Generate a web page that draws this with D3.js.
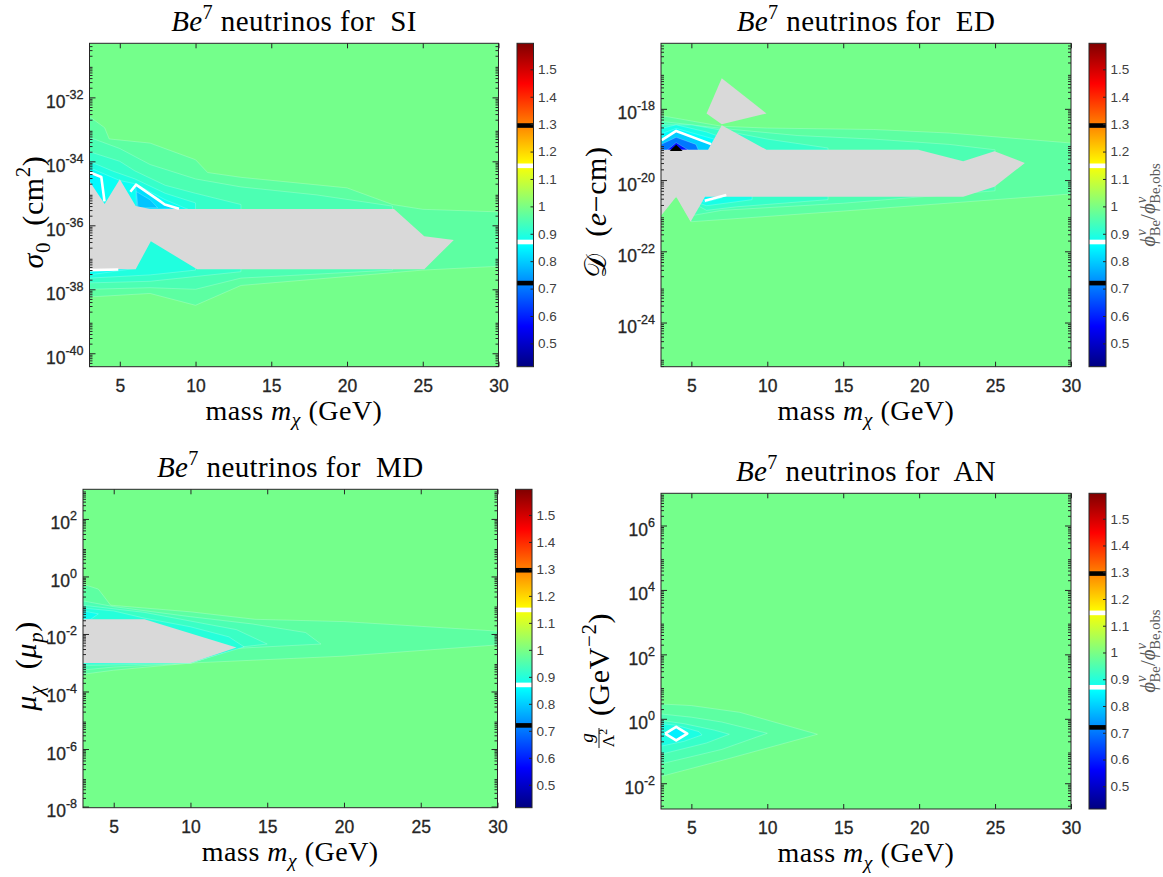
<!DOCTYPE html>
<html>
<head>
<meta charset="utf-8">
<script src="https://cdn.jsdelivr.net/npm/d3@7"></script>
<style>
  body { margin: 0; background: #fff; }
  svg { display: block; }
  .tex { font-family: "Liberation Serif", "Times New Roman", serif; fill: #000; white-space: pre; }
  .ax text { font-family: "Liberation Sans", Arial, sans-serif; fill: #262626; stroke: #262626; stroke-width: 0.3px; }
  .ax line { stroke: #262626; }
</style>
</head>
<body>
<div id="chart"></div>
<script>

// ---- shared values ----
var massDomain = [3, 30];
var massTicks = [5, 10, 15, 20, 25, 30];
var cbDomain = [0.415, 1.595];
var cbTicks = [0.5, 0.6, 0.7, 0.8, 0.9, 1, 1.1, 1.2, 1.3, 1.4, 1.5];
var cbMarks = [{v: 0.72, c: "#000"}, {v: 0.87, c: "#fff"}, {v: 1.148, c: "#fff"}, {v: 1.295, c: "#000"}];
var bgLevel = 0.992;

// ---- SI : [mass, log10(sigma0)] ----
var siYDomain = [-40.42, -30.31];
var siYTicks = [-40, -38, -36, -34, -32];
var siBands = [
  {v: 0.965, pts: [[3,-32.6],[4,-32.95],[4.3,-33.3],[7,-33.43],[10,-33.95],[10.8,-34.35],[13,-34.5],[20,-34.83],[23,-35.35],[25,-35.5],[30,-35.58],[30,-37.28],[25,-37.4],[13,-37.88],[10,-38.5],[7,-38.13],[3,-38.24]]},
  {v: 0.945, pts: [[3,-33.25],[5,-33.6],[7,-34.1],[10,-34.55],[13,-34.8],[18,-35.05],[23,-35.4],[23,-37.4],[13,-37.65],[10,-38.0],[7,-37.95],[3,-38.0]]},
  {v: 0.92,  pts: [[3,-33.7],[5,-34.0],[6,-34.3],[8,-34.75],[10,-35.0],[13,-35.35],[13,-37.45],[10,-37.6],[7,-37.75],[3,-37.8]]},
  {v: 0.895, pts: [[3,-34.0],[4.5,-34.3],[6,-34.55],[8,-35.0],[10,-35.3],[10,-37.4],[7,-37.55],[3,-37.65]]},
  {v: 0.87,  pts: [[3,-34.2],[4,-34.4],[5,-34.6],[6,-34.7],[8,-35.2],[9.5,-35.5],[3,-35.5]]},
  {v: 0.87,  pts: [[3,-37.3],[6,-37.35],[3,-37.55]]},
  {v: 0.85,  pts: [[3,-34.34],[3.78,-34.49],[3.99,-35.25],[3,-35.0]]},
  {v: 0.82,  pts: [[6.07,-34.73],[7.49,-35.19],[7.96,-35.35],[8.91,-35.48],[6.1,-35.5]]},
  {v: 0.79,  pts: [[6.1,-34.95],[7,-35.2],[7.5,-35.45],[6.2,-35.45]]}
];
var siGray = [
  [[3,-34.62],[4,-35.33],[5,-34.56],[6.05,-35.4],[7,-35.49],[23.1,-35.49],[25.1,-36.34],[27.05,-36.46],[25.1,-37.37],[10.1,-37.37],[7.05,-36.5],[6.05,-37.37],[3,-37.37]]
];
var siWhite = [
  [[3,-34.34],[3.78,-34.49],[3.99,-35.25]],
  [[5.7,-34.95],[6.07,-34.73],[7.49,-35.19],[7.96,-35.35],[8.91,-35.48]],
  [[3,-37.4],[4.9,-37.38]]
];

// ---- ED : [mass, log10(D)] ----
var edYDomain = [-25.24, -16.16];
var edYTicks = [-24, -22, -20, -18];
var edBands = [
  {v: 0.965, pts: [[3,-18.19],[7,-18.49],[10,-18.54],[17,-18.58],[22,-18.68],[30,-18.96],[30,-20.39],[15,-20.87],[5,-21.17],[4,-20.4],[3,-20.4]]},
  {v: 0.945, pts: [[3,-18.35],[7,-18.55],[12,-18.75],[17,-18.85],[22,-19.0],[25,-19.15],[25,-20.3],[15,-20.65],[7,-20.85],[5,-21.0],[4.3,-20.47],[3,-20.47]]},
  {v: 0.92,  pts: [[3,-18.45],[5,-18.45],[7,-18.6],[10,-18.85],[14,-19.1],[14,-20.55],[8,-20.75],[6,-20.85],[4.3,-20.47],[3,-20.47]]},
  {v: 0.885, pts: [[3,-18.55],[4,-18.45],[6,-18.65],[8,-18.95],[9,-19.2],[9,-20.55],[6,-20.72],[4.3,-20.47],[3,-20.47]]},
  {v: 0.86,  pts: [[3,-18.7],[4,-18.55],[6.5,-18.85],[7,-19.2],[7,-20.5],[5.9,-20.62],[4.3,-20.47],[3,-20.47]]},
  {v: 0.8,   pts: [[3,-18.88],[4,-18.62],[6.3,-18.99],[6.3,-19.2],[3,-19.2]]},
  {v: 0.7,   pts: [[3,-19.0],[4,-18.8],[5.3,-19.0],[5.5,-19.2],[3,-19.2]]},
  {v: 0.58,  pts: [[3.4,-19.16],[4,-18.95],[4.8,-19.16]]}
];
var edGray = [
  [[3,-19.15],[6.1,-19.15],[7,-18.46],[9.95,-19.15],[19.94,-19.15],[22.9,-19.47],[24.96,-19.19],[26.96,-19.52],[24.96,-20.19],[22.9,-20.47],[5.9,-20.47],[4.95,-21.17],[4.0,-20.47],[3,-21.0]],
  [[7,-17.14],[9.95,-18.13],[7,-18.43],[6,-18.13]]
];
var edWhite = [
  [[3.05,-18.88],[4,-18.62],[6.3,-18.99]],
  [[5.88,-20.58],[7.3,-20.42]]
];
var edBlack = [
  [[3.7,-19.16],[4,-19.04],[4.3,-19.16]]
];

// ---- MD : [mass, log10(mu)] ----
var mdYDomain = [-8.04, 3.03];
var mdYTicks = [-8, -6, -4, -2, 0, 2];
var mdBands = [
  {v: 0.965, pts: [[3,-0.27],[4,-0.44],[4.8,-1.0],[10,-1.23],[14.2,-1.49],[20,-1.57],[30,-1.9],[30,-2.38],[20,-2.77],[10,-3.01],[5,-3.26],[3,-3.4]]},
  {v: 0.945, pts: [[3,-0.85],[5,-1.05],[10,-1.4],[14,-1.65],[17.5,-1.95],[18.5,-2.35],[13,-2.5],[10,-3.02],[5,-3.15],[3,-3.25]]},
  {v: 0.925, pts: [[3,-1.0],[7,-1.25],[10,-1.55],[13,-1.85],[15,-2.35],[13,-2.47],[10,-3.02],[3,-3.1]]},
  {v: 0.9,   pts: [[3,-1.1],[5,-1.2],[7,-1.45],[10,-1.75],[12.5,-2.1],[13.5,-2.45],[10,-3.0],[3,-3.05]]},
  {v: 0.875, pts: [[3,-1.2],[4,-1.3],[3.5,-1.49],[3,-1.49]]}
];
var mdGray = [
  [[3,-1.49],[7,-1.49],[13,-2.47],[10,-3.01],[3,-3.01]]
];

// ---- AN : [mass, log10(g/Lambda^2)] ----
var anYDomain = [-2.8, 7.0];
var anYTicks = [-2, 0, 2, 4, 6];
var anBands = [
  {v: 0.965, pts: [[3,0.46],[5,0.41],[8.2,0.2],[13.3,-0.48],[7.5,-1.23],[3,-1.79]]},
  {v: 0.945, pts: [[3,0.15],[5,0.05],[7,-0.1],[10,-0.45],[7,-0.95],[3,-1.4]]},
  {v: 0.92,  pts: [[3,-0.05],[4.5,-0.15],[6.5,-0.35],[7.5,-0.48],[6,-0.75],[3,-1.1]]},
  {v: 0.89,  pts: [[3,-0.15],[4,-0.2],[5.5,-0.4],[5.7,-0.5],[4.5,-0.7],[3,-0.85]]},
  {v: 0.84,  pts: [[3.27,-0.46],[4,-0.25],[4.73,-0.46],[4,-0.67]]}
];
var anWhite = [
  [[3.27,-0.46],[4,-0.25],[4.73,-0.46],[4,-0.67],[3.27,-0.46]]
];

// ---- text ----
var xLabel = [{t: "mass "}, {t: "m", i: 1}, {t: "χ", s: "sub", i: 1}, {t: " (GeV)"}];
function titleFor(name) {
  return [{t: "Be", i: 1}, {t: "7", s: "sup"}, {t: " neutrinos for  " + name}];
}
var cbLabel = [{t: "ϕ", i: 1}, {t: "ν", s: "sup", i: 1}, {t: "Be", s: "sub", dx: -7}, {t: "/"},
               {t: "ϕ", i: 1}, {t: "ν", s: "sup", i: 1}, {t: "Be,obs", s: "sub", dx: -7}];

// jet colormap over the colorbar range
var jetT = [0, 0.125, 0.375, 0.625, 0.875, 1];
var jetC = ["#000080", "#0000ff", "#00ffff", "#ffff00", "#ff0000", "#800000"];
var color = d3.scaleLinear()
  .domain(jetT.map(function(t) { return cbDomain[0] + t * (cbDomain[1] - cbDomain[0]); }))
  .range(jetC)
  .clamp(true);

var svg = d3.select("#chart").append("svg")
  .attr("width", 1163)
  .attr("height", 877);

var defs = svg.append("defs");
var grad = defs.append("linearGradient")
  .attr("id", "jet")
  .attr("x1", 0).attr("y1", 1).attr("x2", 0).attr("y2", 0);
grad.selectAll("stop")
  .data(jetT)
  .enter().append("stop")
  .attr("offset", function(d) { return d; })
  .attr("stop-color", function(d, i) { return jetC[i]; });

// rich text with italic / sub / sup pieces
function rich(text, segs, fs) {
  var shift = 0;
  segs.forEach(function(s) {
    var target = s.s === "sup" ? -0.42 * fs : s.s === "sub" ? 0.24 * fs : 0;
    var ts = text.append("tspan")
      .text(s.t)
      .attr("font-size", s.s ? fs * 0.7 : fs)
      .attr("dy", target - shift);
    if (s.i) ts.attr("font-style", "italic");
    if (s.dx) ts.attr("dx", s.dx);
    shift = target;
  });
  return text;
}

var panels = [
  {name: "SI", yDom: siYDomain, yTicks: siYTicks, bands: siBands, gray: siGray, white: siWhite, black: [],
   left: 89.5, right: 498.5, top: 43.3, bottom: 366.7, cbL: 517, cbR: 533.5,
   ylab: {x: 43, y: 212, segs: [{t: "σ", i: 1}, {t: "0", s: "sub"}, {t: "  (cm"}, {t: "2", s: "sup"}, {t: ")"}]}, showCbLabel: false},
  {name: "ED", yDom: edYDomain, yTicks: edYTicks, bands: edBands, gray: edGray, white: edWhite, black: edBlack,
   left: 661, right: 1071, top: 43.3, bottom: 366.7, cbL: 1089, cbR: 1106,
   ylab: {x: 606, y: 212, segs: [{t: "𝒟"}, {t: "  ("}, {t: "e", i: 1}, {t: "−cm)"}]}, showCbLabel: true},
  {name: "MD", yDom: mdYDomain, yTicks: mdYTicks, bands: mdBands, gray: mdGray, white: [], black: [],
   left: 83, right: 497.5, top: 489.3, bottom: 807.7, cbL: 515.5, cbR: 532,
   ylab: {x: 36, y: 666, segs: [{t: "μ", i: 1}, {t: "χ", s: "sub", i: 1}, {t: "  ("}, {t: "μ", i: 1}, {t: "p", s: "sub", i: 1}, {t: ")"}]}, showCbLabel: false},
  {name: "AN", yDom: anYDomain, yTicks: anYTicks, bands: anBands, gray: [], white: anWhite, black: [],
   left: 661, right: 1071, top: 493.3, bottom: 809, cbL: 1089, cbR: 1106,
   ylab: null, showCbLabel: true}
];

panels.forEach(drawPanel);

function drawPanel(p, idx) {
  var g = svg.append("g");

  var x = d3.scaleLinear().domain(massDomain).range([p.left, p.right]);
  var y = d3.scaleLog()
    .domain([Math.pow(10, p.yDom[0]), Math.pow(10, p.yDom[1])])
    .range([p.bottom, p.top]);
  var pt = function(d) { return [x(d[0]), y(Math.pow(10, d[1]))]; };
  var line = d3.line();

  defs.append("clipPath").attr("id", "clip" + idx)
    .append("rect")
    .attr("x", p.left).attr("y", p.top)
    .attr("width", p.right - p.left).attr("height", p.bottom - p.top);

  var plot = g.append("g").attr("clip-path", "url(#clip" + idx + ")");

  plot.append("rect")
    .attr("x", p.left).attr("y", p.top)
    .attr("width", p.right - p.left).attr("height", p.bottom - p.top)
    .attr("fill", color(bgLevel));

  plot.selectAll("path.band")
    .data(p.bands)
    .enter().append("path")
    .attr("class", "band")
    .attr("d", function(b) { return line(b.pts.map(pt)) + "Z"; })
    .attr("fill", function(b) { return color(b.v); })
    .attr("stroke", "rgba(255,255,255,0.3)")
    .attr("stroke-width", 0.7);

  plot.selectAll("path.gray")
    .data(p.gray)
    .enter().append("path")
    .attr("class", "gray")
    .attr("d", function(d) { return line(d.map(pt)) + "Z"; })
    .attr("fill", "#d9d9d9");

  plot.selectAll("path.blk")
    .data(p.black)
    .enter().append("path")
    .attr("class", "blk")
    .attr("d", function(d) { return line(d.map(pt)) + "Z"; })
    .attr("fill", "#000")
    .attr("stroke", "#000")
    .attr("stroke-width", 1.5);

  plot.selectAll("path.wht")
    .data(p.white)
    .enter().append("path")
    .attr("class", "wht")
    .attr("d", function(d) { return line(d.map(pt)); })
    .attr("fill", "none")
    .attr("stroke", "#fff")
    .attr("stroke-width", 2.6)
    .attr("stroke-linejoin", "round");

  // axes
  var minor = [];
  d3.range(Math.floor(p.yDom[0]), Math.ceil(p.yDom[1])).forEach(function(k) {
    d3.range(2, 10).forEach(function(j) {
      var v = j * Math.pow(10, k);
      if (Math.log10(v) > p.yDom[0] && Math.log10(v) < p.yDom[1]) minor.push(v);
    });
  });
  var majors = p.yTicks.map(function(e) { return Math.pow(10, e); });

  var ax = g.append("g").attr("class", "ax");

  ax.append("g")
    .attr("transform", "translate(0," + p.bottom + ")")
    .call(d3.axisBottom(x).tickValues(massTicks).tickSizeInner(-5).tickSizeOuter(0).tickPadding(13))
    .call(function(s) { s.select(".domain").remove(); })
    .selectAll("text").attr("font-size", 17.5);

  ax.append("g")
    .attr("transform", "translate(0," + p.top + ")")
    .call(d3.axisTop(x).tickValues(massTicks).tickSizeInner(-5).tickSizeOuter(0).tickFormat(""))
    .call(function(s) { s.select(".domain").remove(); });

  [["L", p.left], ["R", p.right]].forEach(function(side) {
    var mk = side[0] === "L" ? d3.axisLeft : d3.axisRight;
    ax.append("g")
      .attr("transform", "translate(" + side[1] + ",0)")
      .call(mk(y).tickValues(minor).tickSizeInner(-3).tickSizeOuter(0).tickFormat(""))
      .call(function(s) { s.select(".domain").remove(); });
    var major = ax.append("g")
      .attr("transform", "translate(" + side[1] + ",0)")
      .call(mk(y).tickValues(majors).tickSizeInner(-6).tickSizeOuter(0).tickFormat(""))
      .call(function(s) { s.select(".domain").remove(); });
    if (side[0] === "L") {
      major.selectAll(".tick")
        .append("text")
        .attr("x", -6)
        .attr("y", 10)
        .attr("text-anchor", "end")
        .each(function(d) {
          var t = d3.select(this);
          t.append("tspan").attr("font-size", 17.5).text("10");
          t.append("tspan").attr("font-size", 12.5).attr("dy", -9)
            .text(String(Math.round(Math.log10(d))));
        });
    }
  });

  g.append("rect")
    .attr("x", p.left).attr("y", p.top)
    .attr("width", p.right - p.left).attr("height", p.bottom - p.top)
    .attr("fill", "none")
    .attr("stroke", "#262626")
    .attr("stroke-width", 1);

  // colorbar
  var cy = d3.scaleLinear().domain(cbDomain).range([p.bottom, p.top]);
  g.append("rect")
    .attr("x", p.cbL).attr("y", p.top)
    .attr("width", p.cbR - p.cbL).attr("height", p.bottom - p.top)
    .attr("fill", "url(#jet)");
  g.selectAll("rect.mark")
    .data(cbMarks)
    .enter().append("rect")
    .attr("class", "mark")
    .attr("x", p.cbL).attr("width", p.cbR - p.cbL)
    .attr("y", function(d) { return cy(d.v) - 2.3; })
    .attr("height", 4.6)
    .attr("fill", function(d) { return d.c; });
  var cax = g.append("g").attr("class", "ax")
    .attr("transform", "translate(" + p.cbR + ",0)")
    .call(d3.axisRight(cy).tickValues(cbTicks).tickSizeInner(-3).tickSizeOuter(0).tickPadding(4.5)
      .tickFormat(d3.format("~g")))
    .call(function(s) { s.select(".domain").remove(); });
  cax.selectAll("text").attr("font-size", 13.5).style("fill", "#404040").style("stroke", "none");
  g.append("rect")
    .attr("x", p.cbL).attr("y", p.top)
    .attr("width", p.cbR - p.cbL).attr("height", p.bottom - p.top)
    .attr("fill", "none")
    .attr("stroke", "#262626")
    .attr("stroke-width", 1);

  if (p.showCbLabel) {
    var lbl = g.append("text")
      .attr("class", "tex")
      .attr("text-anchor", "middle")
      .attr("transform", "translate(" + (p.cbR + 49) + "," + ((p.top + p.bottom) / 2) + ") rotate(-90)")
      .style("fill", "#5a5a5a");
    rich(lbl, cbLabel, 21);
  }

  // title and labels
  rich(g.append("text")
    .attr("class", "tex")
    .attr("text-anchor", "middle")
    .attr("letter-spacing", 0.4)
    .attr("x", (p.left + p.right) / 2)
    .attr("y", p.top - 12), titleFor(p.name), 29);

  rich(g.append("text")
    .attr("class", "tex")
    .attr("text-anchor", "middle")
    .attr("letter-spacing", 0.5)
    .attr("x", (p.left + p.right) / 2)
    .attr("y", p.bottom + 53), xLabel, 28);

  if (p.ylab) {
    rich(g.append("text")
      .attr("class", "tex")
      .attr("text-anchor", "middle")
      .attr("letter-spacing", 0.6)
      .attr("transform", "translate(" + p.ylab.x + "," + p.ylab.y + ") rotate(-90)"), p.ylab.segs, 30);
  } else {
    // g / Lambda^2 (GeV^-2) with a stacked fraction
    var yl = g.append("g")
      .attr("class", "tex")
      .attr("transform", "translate(609,672) rotate(-90)");
    yl.append("text").attr("class", "tex").attr("x", -66).attr("y", -16)
      .attr("text-anchor", "middle").attr("font-size", 19).attr("font-style", "italic").text("g");
    yl.append("line").attr("x1", -76).attr("x2", -56).attr("y1", -10).attr("y2", -10)
      .attr("stroke", "#000").attr("stroke-width", 0.9);
    rich(yl.append("text").attr("class", "tex").attr("x", -66).attr("y", 5).attr("text-anchor", "middle"),
      [{t: "Λ"}, {t: "2", s: "sup"}], 17);
    rich(yl.append("text").attr("class", "tex").attr("x", -44).attr("y", 0).attr("letter-spacing", 0.6),
      [{t: "(GeV"}, {t: "−2", s: "sup"}, {t: ")"}], 30);
  }
}
</script>
</body>
</html>
